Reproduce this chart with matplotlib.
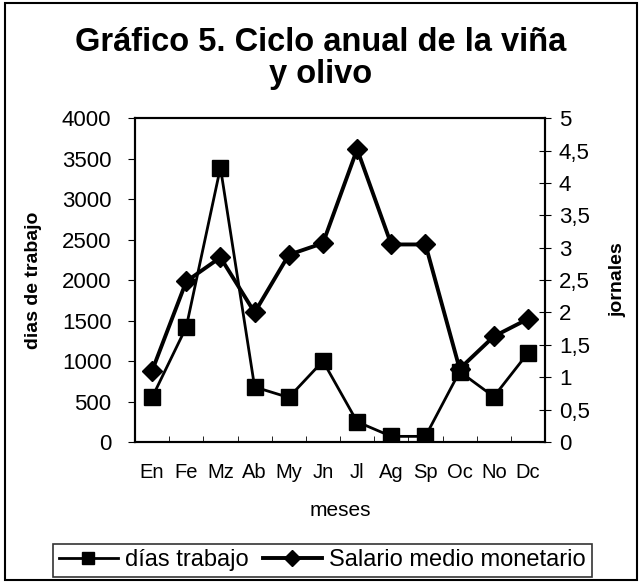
import matplotlib
matplotlib.use("Agg")
import matplotlib.pyplot as plt
from matplotlib.patches import Rectangle

# data
meses = ["En", "Fe", "Mz", "Ab", "My", "Jn", "Jl", "Ag", "Sp", "Oc", "No", "Dc"]
dias_trabajo = [550, 1420, 3390, 680, 550, 1000, 250, 70, 70, 870, 560, 1100]
salario_medio = [1.1, 2.48, 2.85, 2.0, 2.89, 3.07, 4.52, 3.05, 3.05, 1.13, 1.63, 1.9]

left_ticks = [0, 500, 1000, 1500, 2000, 2500, 3000, 3500, 4000]
right_ticks = [0, 0.5, 1, 1.5, 2, 2.5, 3, 3.5, 4, 4.5, 5]
right_labels = ["0", "0,5", "1", "1,5", "2", "2,5", "3", "3,5", "4", "4,5", "5"]

plt.rcParams['font.family'] = ['Liberation Sans', 'DejaVu Sans']

fig = plt.figure(figsize=(6.42, 5.82), dpi=100)
fig.patches.append(Rectangle((0.008, 0.004), 0.984, 0.99, transform=fig.transFigure,
                             fill=False, edgecolor='black', linewidth=1.5))

ax = fig.add_axes([0.2103, 0.2405, 0.6387, 0.5565])
ax2 = ax.twinx()

x = list(range(len(meses)))
l1, = ax.plot(x, dias_trabajo, color='black', linewidth=2, marker='s',
              markersize=11, label='días trabajo')
l2, = ax2.plot(x, salario_medio, color='black', linewidth=2.8, marker='D',
               markersize=10.5, label='Salario medio monetario')

ax.set_xlim(-0.5, 11.5)
ax.set_ylim(0, 4000)
ax2.set_ylim(0, 5)
ax.set_yticks(left_ticks)
ax.set_yticklabels([str(v) for v in left_ticks], fontsize=16)
ax2.set_yticks(right_ticks)
ax2.set_yticklabels(right_labels, fontsize=16)
ax.set_xticks(x)
ax.set_xticklabels(meses, fontsize=14.5)
ax.set_xticks([i - 0.5 for i in range(13)], minor=True)
ax.tick_params(axis='x', which='major', length=0, pad=15)
ax.tick_params(axis='x', which='minor', direction='in', length=4)
ax.tick_params(axis='y', direction='out', length=5, pad=12)
ax2.tick_params(axis='y', direction='inout', length=8, pad=6)

for a in (ax, ax2):
    for s in a.spines.values():
        s.set_linewidth(1.5)

ax.set_xlabel("meses", fontsize=15, labelpad=14)
ax.set_ylabel("dias de trabajo", fontsize=14, fontweight='bold', labelpad=14)
ax2.set_ylabel("jornales", fontsize=14, fontweight='bold', rotation=90, labelpad=14)

fig.text(0.5, 0.9, "Gráfico 5. Ciclo anual de la viña\ny olivo", ha='center', va='center',
         fontsize=23.5, fontweight='bold', linespacing=1.05)

leg = fig.legend(handles=[l1, l2], loc='center', bbox_to_anchor=(0.502, 0.037), ncol=2,
                 fontsize=17, frameon=True, fancybox=False, edgecolor='black',
                 handlelength=2.5, handletextpad=0.3, columnspacing=0.6,
                 borderpad=0.25, markerscale=0.8)
leg.get_frame().set_linewidth(1.2)

fig.savefig("out.png", dpi=100)
